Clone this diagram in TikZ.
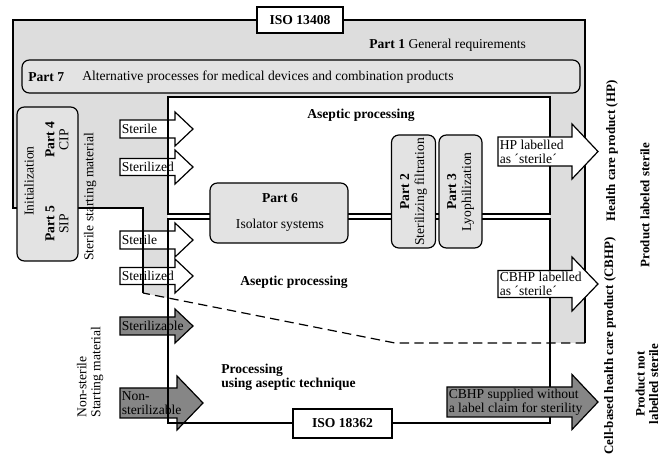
\documentclass[tikz,border=0pt]{standalone}
\usepackage{fontspec}
\setmainfont{Liberation Serif}
\definecolor{lg}{HTML}{DDDDDD}
\definecolor{bx}{HTML}{E3E3E3}
\definecolor{dg}{HTML}{868686}
% #1 fill, #2 left x, #3 head start x, #4 tip x, #5 centre y, #6 half body, #7 half head, #8 name, #9 text
\newcommand{\blockarrow}[9]{%
  \draw[ln, fill=#1] (#2,#5-#6) -- (#3,#5-#6) -- (#3,#5-#7) -- (#4,#5) -- (#3,#5+#7) -- (#3,#5+#6) -- (#2,#5+#6) -- cycle;
  \node[anchor=west, align=left] (#8) at (#2+1.5,#5) {#9};}
\begin{document}
\begin{tikzpicture}[x=0.75pt,y=-0.75pt,
  font=\fontsize{10.2}{10.5}\selectfont,
  every node/.style={inner sep=0pt},
  ln/.style={line width=0.9pt},
  partbox/.style={draw, line width=0.9pt, fill=bx, rounded corners=5.5pt},
  isobox/.style={draw, line width=0.9pt, fill=white, font=\fontsize{10.2}{10.5}\selectfont\bfseries},
  rtext/.style={rotate=90, align=center},
  btext/.style={font=\fontsize{10.2}{10.5}\selectfont\bfseries},
  sidetext/.style={rotate=90, align=center, font=\fontsize{9.7}{10.2}\selectfont\bfseries}]
\useasboundingbox (0,0) rectangle (661,463);
% regions
\fill[lg] (13,20) -- (585,20) -- (585,343) -- (395,343) -- (143,293) -- (143,208) -- (13,208) -- cycle;
\fill[white] (168,97) rectangle (550,423);
% left arrows (under the region lines)
\blockarrow{white}{120}{175}{193}{129}{9}{17}{a1}{Sterile}
\blockarrow{white}{120}{175}{193}{167}{8.5}{17}{a2}{Sterilized}
\blockarrow{white}{120}{175}{193}{240}{9}{17}{a3}{Sterile}
\blockarrow{white}{120}{175}{193}{276}{8.5}{17}{a4}{Sterilized}
\blockarrow{dg}{120}{175}{193}{326}{9}{17}{a5}{Sterilizable}
\blockarrow{dg}{120}{177}{203}{403}{15}{27}{a6}{Non-\\sterilizable}
% region lines
\draw[ln] (143,293) -- (143,208) -- (13,208) -- (13,20) -- (585,20) -- (585,343);
\draw[ln, dash pattern=on 7pt off 4pt] (585,343) -- (395,343) -- (143,293);
\draw[ln] (168,214) -- (168,97) -- (550,97) -- (550,214) -- cycle;
\draw[ln] (168,219) -- (550,219) -- (550,423) -- (168,423) -- cycle;
% right arrows
\blockarrow{white}{498}{572}{598}{151.5}{14.5}{27.5}{a7}{HP labelled\\as ´sterile´}
\blockarrow{white}{498}{572}{598}{284}{13.5}{27}{a8}{CBHP labelled\\as ´sterile´}
\blockarrow{dg}{447}{572}{598}{402}{15}{27.5}{a9}{CBHP supplied without\\a label claim for sterility}
% boxes
\node[partbox, minimum width=418.5pt, minimum height=24.75pt] (p7) at (301,76.5) {};
\node[partbox, minimum width=45.75pt, minimum height=115.5pt] (p45) at (47.5,184) {};
\node[partbox, minimum width=103.5pt, minimum height=45pt] (p6) at (279,213) {};
\node[partbox, minimum width=33pt, minimum height=84.75pt] (p2) at (413.5,191.5) {};
\node[partbox, minimum width=32.25pt, minimum height=84.75pt] (p3) at (460.5,191.5) {};
\node[isobox, minimum width=64.5pt, minimum height=19.5pt] (iso1) at (300,20) {ISO 13408};
\node[isobox, minimum width=74.25pt, minimum height=21.75pt] (iso2) at (342.5,423.5) {ISO 18362};
% texts
\node[anchor=west] (t1) at (369,45) {\textbf{Part 1} General requirements};
\node[anchor=west, btext] (t7a) at (28,77) {Part 7};
\node[anchor=west] (t7b) at (82,77) {Alternative processes for medical devices and combination products};
\node[btext] (asep1) at (361,115) {Aseptic processing};
\node[btext] (asep2) at (294,282) {Aseptic processing};
\node[btext, anchor=west, align=left] (proc) at (221,377) {Processing\\using aseptic technique};
\node[btext] (t6a) at (280,198) {Part 6};
\node (t6b) at (280,225) {Isolator systems};
\node[rtext, font=\fontsize{10.2}{11.2}\selectfont] (t2) at (413.5,192) {\textbf{Part 2}\\Sterilizing filtration};
\node[rtext, font=\fontsize{10.2}{11.2}\selectfont] (t3) at (460.5,192) {\textbf{Part 3}\\Lyophilization};
\node[rotate=90] (ini) at (29,181) {Initialization};
\node[rtext] (t4) at (57,140) {\textbf{Part 4}\\CIP};
\node[rtext] (t5) at (57,224) {\textbf{Part 5}\\SIP};
\node[rotate=90] (ssm) at (90,197) {Sterile starting material};
\node[rotate=90, align=left] (nsm) at (90,372) {Non-sterile\\Starting material};
\node[sidetext] (hp) at (612,151) {Health care product (HP)};
\node[sidetext] (pls) at (645,205) {Product labeled sterile};
\node[sidetext] (cbhp) at (610,346) {Cell-based health care product (CBHP)};
\node[sidetext] (pnl) at (647,384) {Product not\\labelled sterile};
\end{tikzpicture}
\end{document}
